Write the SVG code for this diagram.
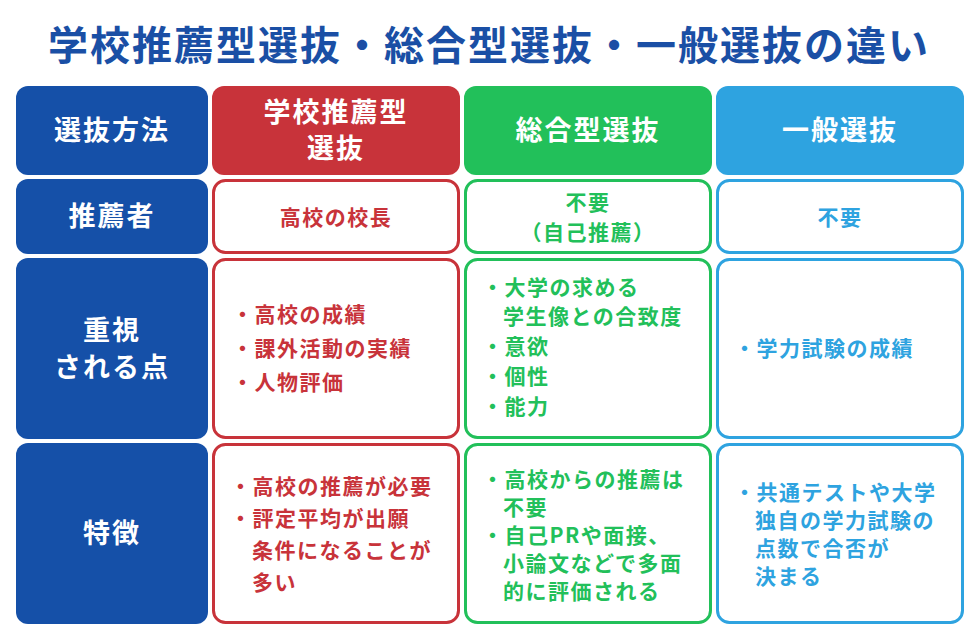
<svg xmlns="http://www.w3.org/2000/svg" width="978" height="635" viewBox="0 0 978 635">
<style>
text{font-family:"Noto Sans CJK JP","Noto Sans",sans-serif;font-weight:bold}
.t{font-size:40px;fill:#1a4fa5;letter-spacing:2px}
.h{font-size:27px;fill:#fff;letter-spacing:2px}
.b{font-size:21px;letter-spacing:1.5px}
.r{fill:#c8333a}.g{fill:#22c05a}.l{fill:#2ea3e0}
.rs{fill:#fff;stroke:#c8333a;stroke-width:3}
.gs{fill:#fff;stroke:#22c05a;stroke-width:3}
.ls{fill:#fff;stroke:#2ea3e0;stroke-width:3}
</style>
<rect width="978" height="635" fill="#fff"/>
<text class="t" x="489" y="60" text-anchor="middle">学校推薦型選抜・総合型選抜・一般選抜の違い</text>
<g id="rowheads">
<rect x="16" y="86" width="192" height="89" rx="12" fill="#1550a8"/>
<text class="h" x="112" y="140" text-anchor="middle">選抜方法</text>
<rect x="16" y="179" width="192" height="75" rx="12" fill="#1550a8"/>
<text class="h" x="112" y="226" text-anchor="middle">推薦者</text>
<rect x="16" y="258" width="192" height="181" rx="12" fill="#1550a8"/>
<text class="h" x="112" y="340" text-anchor="middle">重視</text>
<text class="h" x="112" y="377" text-anchor="middle">される点</text>
<rect x="16" y="443" width="192" height="181" rx="12" fill="#1550a8"/>
<text class="h" x="112" y="543" text-anchor="middle">特徴</text>
</g>
<g id="col-red">
<rect x="212" y="86" width="248" height="89" rx="12" fill="#c8333a"/>
<text class="h" x="336" y="122" text-anchor="middle">学校推薦型</text>
<text class="h" x="336" y="158" text-anchor="middle">選抜</text>
<rect class="rs" x="213.5" y="180.5" width="245" height="72" rx="12"/>
<text class="b r" x="336" y="225" text-anchor="middle">高校の校長</text>
<rect class="rs" x="213.5" y="259.5" width="245" height="178" rx="12"/>
<text class="b r" x="232" y="322">・高校の成績</text>
<text class="b r" x="232" y="356">・課外活動の実績</text>
<text class="b r" x="232" y="390">・人物評価</text>
<rect class="rs" x="213.5" y="444.5" width="245" height="178" rx="12"/>
<text class="b r" x="230" y="494">・高校の推薦が必要</text>
<text class="b r" x="230" y="526">・評定平均が出願</text>
<text class="b r" x="252" y="558">条件になることが</text>
<text class="b r" x="252" y="590">多い</text>
</g>
<g id="col-green">
<rect x="464" y="86" width="248" height="89" rx="12" fill="#22c05a"/>
<text class="h" x="588" y="140" text-anchor="middle">総合型選抜</text>
<rect class="gs" x="465.5" y="180.5" width="245" height="72" rx="12"/>
<text class="b g" x="588" y="210" text-anchor="middle">不要</text>
<text class="b g" x="588" y="240" text-anchor="middle">（自己推薦）</text>
<rect class="gs" x="465.5" y="259.5" width="245" height="178" rx="12"/>
<text class="b g" x="482" y="295">・大学の求める</text>
<text class="b g" x="503" y="324">学生像との合致度</text>
<text class="b g" x="482" y="354">・意欲</text>
<text class="b g" x="482" y="384">・個性</text>
<text class="b g" x="482" y="414">・能力</text>
<rect class="gs" x="465.5" y="444.5" width="245" height="178" rx="12"/>
<text class="b g" x="482" y="487">・高校からの推薦は</text>
<text class="b g" x="503" y="515">不要</text>
<text class="b g" x="482" y="543">・自己PRや面接、</text>
<text class="b g" x="503" y="571">小論文などで多面</text>
<text class="b g" x="503" y="599">的に評価される</text>
</g>
<g id="col-blue">
<rect x="716" y="86" width="248" height="89" rx="12" fill="#2ea3e0"/>
<text class="h" x="840" y="140" text-anchor="middle">一般選抜</text>
<rect class="ls" x="717.5" y="180.5" width="245" height="72" rx="12"/>
<text class="b l" x="840" y="225" text-anchor="middle">不要</text>
<rect class="ls" x="717.5" y="259.5" width="245" height="178" rx="12"/>
<text class="b l" x="734" y="356">・学力試験の成績</text>
<rect class="ls" x="717.5" y="444.5" width="245" height="178" rx="12"/>
<text class="b l" x="734" y="500">・共通テストや大学</text>
<text class="b l" x="755" y="528">独自の学力試験の</text>
<text class="b l" x="755" y="556">点数で合否が</text>
<text class="b l" x="755" y="584">決まる</text>
</g>
<g id="connectors"/>
</svg>
